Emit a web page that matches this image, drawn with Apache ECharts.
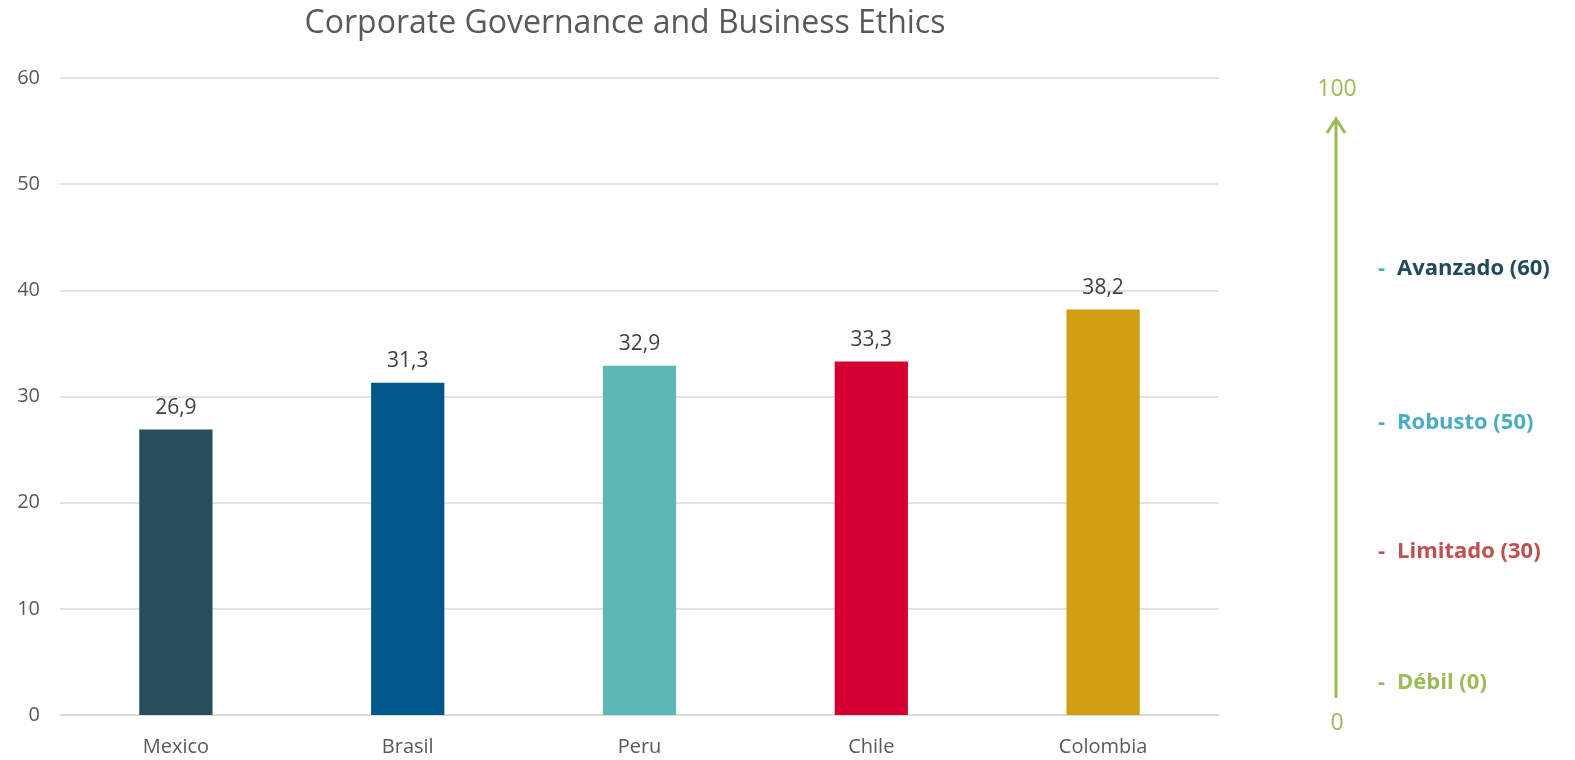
<!DOCTYPE html>
<html><head><meta charset="utf-8">
<script src="https://cdn.jsdelivr.net/npm/echarts@6/dist/echarts.min.js"></script>
<style>html,body{margin:0;padding:0;background:#fff}#c{width:1575px;height:760px}</style>
</head><body><div id="c"></div>
<script>
const categories = ['Mexico', 'Brasil', 'Peru', 'Chile', 'Colombia'];
const values = [26.9, 31.3, 32.9, 33.3, 38.2];
const barColors = ['#264E5C', '#00578A', '#5DB8B5', '#D50032', '#D19E13'];
const yTicks = { min: 0, max: 60, interval: 10 };
const scaleTop = '100';
const scaleBottom = '0';
const levels = [
  { label: 'Avanzado (60)', dash: '#4BACC6', color: '#23495A', y: 269 },
  { label: 'Robusto (50)', dash: '#4BACC6', color: '#4BACC6', y: 423 },
  { label: 'Limitado (30)', dash: '#C0504D', color: '#C0504D', y: 552 },
  { label: 'Débil (0)', dash: '#9BBB59', color: '#9BBB59', y: 683 }
];
const FONT = '"Open Sans", "Noto Sans", sans-serif';
const green = '#9BBB59';

const graphics = [
  { type: 'line', shape: { x1: 1336, y1: 698, x2: 1336, y2: 119 }, style: { stroke: green, lineWidth: 3 } },
  { type: 'polyline', shape: { points: [[1327, 133], [1336, 119], [1345, 133]] }, style: { stroke: green, lineWidth: 3, fill: null } },
  { type: 'text', x: 1337, y: 89, style: { text: scaleTop, fill: green, font: '23px ' + FONT, textAlign: 'center', textVerticalAlign: 'middle' } },
  { type: 'text', x: 1337, y: 723, style: { text: scaleBottom, fill: green, font: '23px ' + FONT, textAlign: 'center', textVerticalAlign: 'middle' } }
];
levels.forEach(l => {
  graphics.push({ type: 'text', x: 1378, y: l.y, style: { text: '-', fill: l.dash, font: 'bold 22px ' + FONT, textAlign: 'left', textVerticalAlign: 'middle' } });
  graphics.push({ type: 'text', x: 1397, y: l.y, style: { text: l.label, fill: l.color, font: 'bold 22px ' + FONT, textAlign: 'left', textVerticalAlign: 'middle' } });
});

const chart = echarts.init(document.getElementById('c'));
chart.setOption({
  animation: false,
  title: {
    text: 'Corporate Governance and Business Ethics',
    left: 620, top: 3, textAlign: 'center',
    textStyle: { fontFamily: FONT, fontSize: 32, fontWeight: 'normal', color: '#595959' }
  },
  grid: { left: 60, right: 1575 - 1219, top: 78, bottom: 760 - 715, containLabel: false },
  xAxis: {
    type: 'category', data: categories,
    axisLine: { lineStyle: { color: '#D9D9D9', width: 1.5 } },
    axisTick: { show: false },
    axisLabel: { color: '#595959', fontFamily: FONT, fontSize: 20, margin: 22 }
  },
  yAxis: {
    type: 'value', min: yTicks.min, max: yTicks.max, interval: yTicks.interval,
    axisLine: { show: false }, axisTick: { show: false },
    splitLine: { lineStyle: { color: '#D9D9D9', width: 1.5 } },
    axisLabel: { color: '#595959', fontFamily: FONT, fontSize: 20, margin: 20 }
  },
  series: [{
    type: 'bar',
    data: values.map((v, i) => ({ value: v, itemStyle: { color: barColors[i] } })),
    barWidth: '31.6%',
    label: {
      show: true, position: 'top', distance: 11,
      color: '#404040', fontFamily: FONT, fontSize: 21,
      formatter: p => String(p.value).replace('.', ',')
    }
  }],
  graphic: graphics
});
</script>
</body></html>
